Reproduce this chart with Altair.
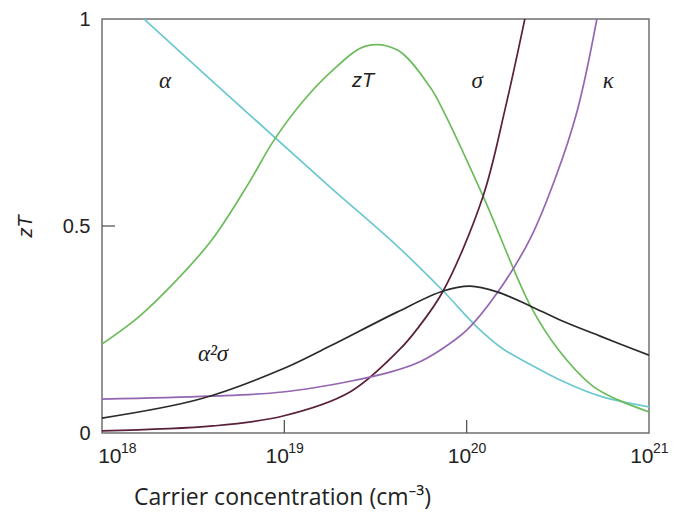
import altair as alt
import pandas as pd

# x values are log10 of carrier concentration (cm^-3); y values are on the zT axis scale
alpha_x = [18.225, 18.773, 19.251, 19.618, 19.871, 20.057, 20.2, 20.364, 20.512, 20.732, 21.0]
alpha_y = [1.002, 0.783, 0.594, 0.452, 0.343, 0.256, 0.203, 0.162, 0.128, 0.089, 0.063]

zt_x = [18.0, 18.2, 18.4, 18.6, 18.8, 18.94, 19.1, 19.25, 19.45, 19.62, 19.8, 19.87, 20.09, 20.35, 20.5, 20.69, 20.83, 21.0]
zt_y = [0.215, 0.28, 0.365, 0.465, 0.6, 0.705, 0.8, 0.87, 0.935, 0.925, 0.835, 0.78, 0.572, 0.307, 0.203, 0.114, 0.08, 0.051]

sigma_x = [18.0, 18.609, 18.993, 19.36, 19.635, 19.728, 19.871, 20.09, 20.211, 20.32]
sigma_y = [0.005, 0.017, 0.041, 0.099, 0.203, 0.251, 0.343, 0.572, 0.783, 1.002]

kappa_x = [18.0, 18.59, 18.99, 19.36, 19.58, 19.728, 19.854, 20.002, 20.167, 20.348, 20.485, 20.606, 20.715]
kappa_y = [0.082, 0.089, 0.099, 0.125, 0.147, 0.169, 0.2, 0.249, 0.338, 0.469, 0.614, 0.778, 1.002]

pf_x = [18.0, 18.538, 18.993, 19.251, 19.618, 19.871, 20.019, 20.167, 20.348, 20.512, 20.732, 21.0]
pf_y = [0.036, 0.082, 0.155, 0.21, 0.292, 0.343, 0.355, 0.341, 0.307, 0.273, 0.234, 0.188]

series_names = ["alpha", "zT", "sigma", "kappa", "a2s"]
series_colors = ["#6cc8d0", "#6cbc5c", "#5a1f3a", "#9466b2", "#2b2b2b"]

label_texts_serif = ["α", "σ", "κ", "α²σ"]
label_x_serif = [18.346, 20.057, 20.776, 18.609]
label_y_serif = [0.85, 0.85, 0.85, 0.191]
label_texts_sans = ["zT"]
label_x_sans = [19.432]
label_y_sans = [0.85]

x_ticks = [1e18, 1e19, 1e20, 1e21]
x_tick_exponents = ["18", "19", "20", "21"]
inner_x_ticks = [1e19, 1e20]
y_ticks = [0, 0.5, 1]
inner_y_ticks = [0.5]

rows = []
for name, xs, ys in [("alpha", alpha_x, alpha_y), ("zT", zt_x, zt_y), ("sigma", sigma_x, sigma_y),
                     ("kappa", kappa_x, kappa_y), ("a2s", pf_x, pf_y)]:
    for i, (a, b) in enumerate(zip(xs, ys)):
        rows.append({"series": name, "n": 10 ** a, "v": b, "i": i})
df = pd.DataFrame(rows)

x_enc = alt.X(
    "n:Q",
    scale=alt.Scale(type="log", domain=[1e18, 1e21], nice=False),
    axis=alt.Axis(
        values=x_ticks,
        labelExpr="'10'",
        labelFont="Liberation Sans",
        labelFontSize=21,
        labelColor="#222222",
        labelPadding=12,
        labelAlign="right",
        labelFlush=False,
        labelOffset={"condition": {"test": "datum.value < 2e18", "value": 19}, "value": 4},
        ticks=False,
        domain=False,
        grid=False,
        title="Carrier concentration (cm⁻³)",
        titleFont="Open Sans, Noto Sans",
        titleFontSize=23,
        titleFontWeight="normal",
        titleColor="#222222",
        titleX=180,
        titleY=64,
        titleAlign="center",
        titleBaseline="middle",
    ),
)
y_enc = alt.Y(
    "v:Q",
    scale=alt.Scale(domain=[0, 1], nice=False),
    axis=alt.Axis(
        values=y_ticks,
        format="~g",
        labelFont="Liberation Sans",
        labelFontSize=20,
        labelColor="#222222",
        labelPadding=12,
        ticks=False,
        domain=False,
        grid=False,
        title="zT",
        titleFont="Liberation Sans",
        titleFontStyle="italic",
        titleFontWeight="normal",
        titleFontSize=20,
        titleColor="#222222",
        titleX=-77,
        titleY=207,
        titleAngle=270,
        titleAlign="center",
        titleBaseline="middle",
    ),
)

lines = alt.Chart(df).mark_line(strokeWidth=1.7, interpolate="catmull-rom", clip=True).encode(
    x=x_enc,
    y=y_enc,
    color=alt.Color("series:N", scale=alt.Scale(domain=series_names, range=series_colors), legend=None),
    order="i:Q",
)

xt = alt.Chart(pd.DataFrame({"n": inner_x_ticks})).mark_rule(color="#555555", strokeWidth=1.3).encode(
    x=x_enc, y=alt.value(414), y2=alt.value(401)
)
yt = alt.Chart(pd.DataFrame({"v": inner_y_ticks})).mark_rule(color="#555555", strokeWidth=1.3).encode(
    y=y_enc, x=alt.value(0), x2=alt.value(13)
)

exp_df = pd.DataFrame({"n": x_ticks, "t": x_tick_exponents})
exp_first = alt.Chart(exp_df).transform_filter("datum.n < 2e18").mark_text(
    font="Liberation Sans", fontSize=14, color="#222222", align="left", baseline="top", dx=19, clip=False
).encode(x=x_enc, y=alt.value(423), text="t:N")
exp_rest = alt.Chart(exp_df).transform_filter("datum.n > 2e18").mark_text(
    font="Liberation Sans", fontSize=14, color="#222222", align="left", baseline="top", dx=4, clip=False
).encode(x=x_enc, y=alt.value(423), text="t:N")

serif_df = pd.DataFrame({"n": [10 ** a for a in label_x_serif], "v": label_y_serif, "t": label_texts_serif})
sans_df = pd.DataFrame({"n": [10 ** a for a in label_x_sans], "v": label_y_sans, "t": label_texts_sans})

serif_labels = alt.Chart(serif_df).mark_text(
    font="Liberation Serif", fontStyle="italic", fontSize=23, color="#222222", align="center", baseline="middle"
).encode(x=x_enc, y=y_enc, text="t:N")
sans_labels = alt.Chart(sans_df).mark_text(
    font="Liberation Sans", fontStyle="italic", fontSize=20, color="#222222", align="center", baseline="middle"
).encode(x=x_enc, y=y_enc, text="t:N")

chart = alt.layer(lines, xt, yt, exp_first, exp_rest, serif_labels, sans_labels).properties(
    width=547,
    height=414,
    autosize=alt.AutoSizeParams(type="none"),
    padding={"left": 102, "top": 19, "right": 27, "bottom": 94},
    background="white",
).configure_view(stroke="#707070", strokeWidth=1.5)

chart.save("out.html", embed_options={"renderer": "svg", "actions": False})
